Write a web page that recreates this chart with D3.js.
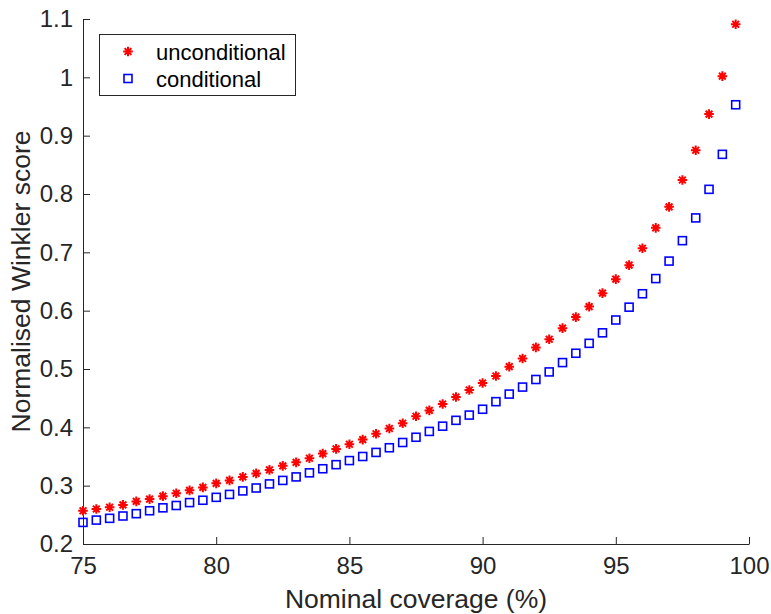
<!DOCTYPE html>
<html>
<head>
<meta charset="utf-8">
<script src="https://cdn.jsdelivr.net/npm/d3@7"></script>
<style>
  body { margin: 0; background: #fff; }
  text { font-family: "Liberation Sans", Arial, sans-serif; fill: #262626; }
</style>
</head>
<body>
<div id="container"></div>
<script>
/* CONSTANTS AND GLOBALS */
const width = 771,
  height = 614,
  margin = { top: 19, bottom: 70, left: 83, right: 22 };

// nominal coverage levels (%)
const coverage = d3.range(75, 100, 0.5);

// normalised Winkler scores
const unconditional = [
  0.257, 0.260, 0.263, 0.267, 0.273, 0.277, 0.282, 0.287, 0.292, 0.297,
  0.304, 0.309, 0.315, 0.321, 0.327, 0.334, 0.340, 0.347, 0.355, 0.363,
  0.371, 0.379, 0.389, 0.398, 0.407, 0.419, 0.429, 0.440, 0.452, 0.464,
  0.476, 0.488, 0.504, 0.518, 0.537, 0.551, 0.570, 0.589, 0.607, 0.630,
  0.654, 0.678, 0.707, 0.742, 0.778, 0.824, 0.875, 0.937, 1.002, 1.091
];
const conditional = [
  0.237, 0.241, 0.244, 0.248, 0.252, 0.257, 0.262, 0.266, 0.271, 0.275,
  0.280, 0.285, 0.291, 0.296, 0.303, 0.309, 0.315, 0.322, 0.329, 0.336,
  0.343, 0.350, 0.357, 0.365, 0.374, 0.383, 0.393, 0.402, 0.412, 0.421,
  0.431, 0.444, 0.457, 0.469, 0.482, 0.495, 0.511, 0.527, 0.544, 0.562,
  0.584, 0.606, 0.629, 0.655, 0.685, 0.720, 0.759, 0.808, 0.868, 0.953
];

const xTicks = [75, 80, 85, 90, 95, 100];
const yTicks = [0.2, 0.3, 0.4, 0.5, 0.6, 0.7, 0.8, 0.9, 1.0, 1.1];

// SCALES
const xScale = d3.scaleLinear()
  .domain([75, 100])
  .range([margin.left, width - margin.right]);

const yScale = d3.scaleLinear()
  .domain([0.2, 1.1])
  .range([height - margin.bottom, margin.top]);

// CREATE SVG ELEMENT
const svg = d3.select("#container")
  .append("svg")
  .attr("width", width)
  .attr("height", height);

// AXES (ticks point inward, matlab style)
const xAxis = d3.axisBottom(xScale)
  .tickValues(xTicks)
  .tickFormat(d3.format("d"))
  .tickSizeInner(-7)
  .tickSizeOuter(0)
  .tickPadding(13);

const yAxis = d3.axisLeft(yScale)
  .tickValues(yTicks)
  .tickFormat(d => d === 1 ? "1" : d3.format(".1f")(d))
  .tickSizeInner(-7)
  .tickSizeOuter(0)
  .tickPadding(10);

const gx = svg.append("g")
  .attr("transform", `translate(0,${height - margin.bottom})`)
  .call(xAxis);

const gy = svg.append("g")
  .attr("transform", `translate(${margin.left},0)`)
  .call(yAxis);

[gx, gy].forEach(g => {
  g.select(".domain").attr("stroke", "#262626").attr("stroke-width", 1);
  g.selectAll(".tick line").attr("stroke", "#262626");
  g.selectAll(".tick text")
    .style("font-family", '"Liberation Sans", Arial, sans-serif')
    .style("font-size", "24px")
    .attr("fill", "#262626");
});

// AXIS LABELS
svg.append("text")
  .attr("x", (margin.left + width - margin.right) / 2)
  .attr("y", 608)
  .style("text-anchor", "middle")
  .style("font-size", "26.5px")
  .text("Nominal coverage (%)");

svg.append("text")
  .attr("transform", "rotate(-90)")
  .attr("x", -(margin.top + height - margin.bottom) / 2)
  .attr("y", 30)
  .style("text-anchor", "middle")
  .style("font-size", "26.5px")
  .text("Normalised Winkler score");

// MARKERS
const star = r => {
  const d = r * Math.SQRT1_2;
  return `M${-r},0L${r},0M0,${-r}L0,${r}M${-d},${-d}L${d},${d}M${-d},${d}L${d},${-d}`;
};

function drawStar(sel) {
  sel.append("path")
    .attr("d", star(4.8))
    .attr("stroke", "#ff0000")
    .attr("stroke-width", 2)
    .attr("fill", "none");
}

function drawSquare(sel) {
  sel.append("rect")
    .attr("x", -4).attr("y", -4)
    .attr("width", 8).attr("height", 8)
    .attr("stroke", "#0000ff")
    .attr("stroke-width", 1.6)
    .attr("fill", "none");
}

const condData = coverage.map((c, i) => ({ x: c, y: conditional[i] }));
const uncondData = coverage.map((c, i) => ({ x: c, y: unconditional[i] }));

svg.append("g").selectAll("g")
  .data(condData)
  .join("g")
  .attr("transform", d => `translate(${xScale(d.x)},${yScale(d.y)})`)
  .call(drawSquare);

svg.append("g").selectAll("g")
  .data(uncondData)
  .join("g")
  .attr("transform", d => `translate(${xScale(d.x)},${yScale(d.y)})`)
  .call(drawStar);

// LEGEND
const legend = svg.append("g").attr("transform", "translate(99,34)");
legend.append("rect")
  .attr("x", 0.5).attr("y", 0.5)
  .attr("width", 196).attr("height", 61)
  .attr("fill", "#fff")
  .attr("stroke", "#262626")
  .attr("stroke-width", 1);

const items = [
  { label: "unconditional", draw: drawStar, y: 17.5 },
  { label: "conditional", draw: drawSquare, y: 44.5 }
];
items.forEach(it => {
  legend.append("g").attr("transform", `translate(29,${it.y})`).call(it.draw);
  legend.append("text")
    .attr("x", 57)
    .attr("y", it.y + 8)
    .style("font-size", "22px")
    .style("fill", "#000")
    .text(it.label);
});
</script>
</body>
</html>
